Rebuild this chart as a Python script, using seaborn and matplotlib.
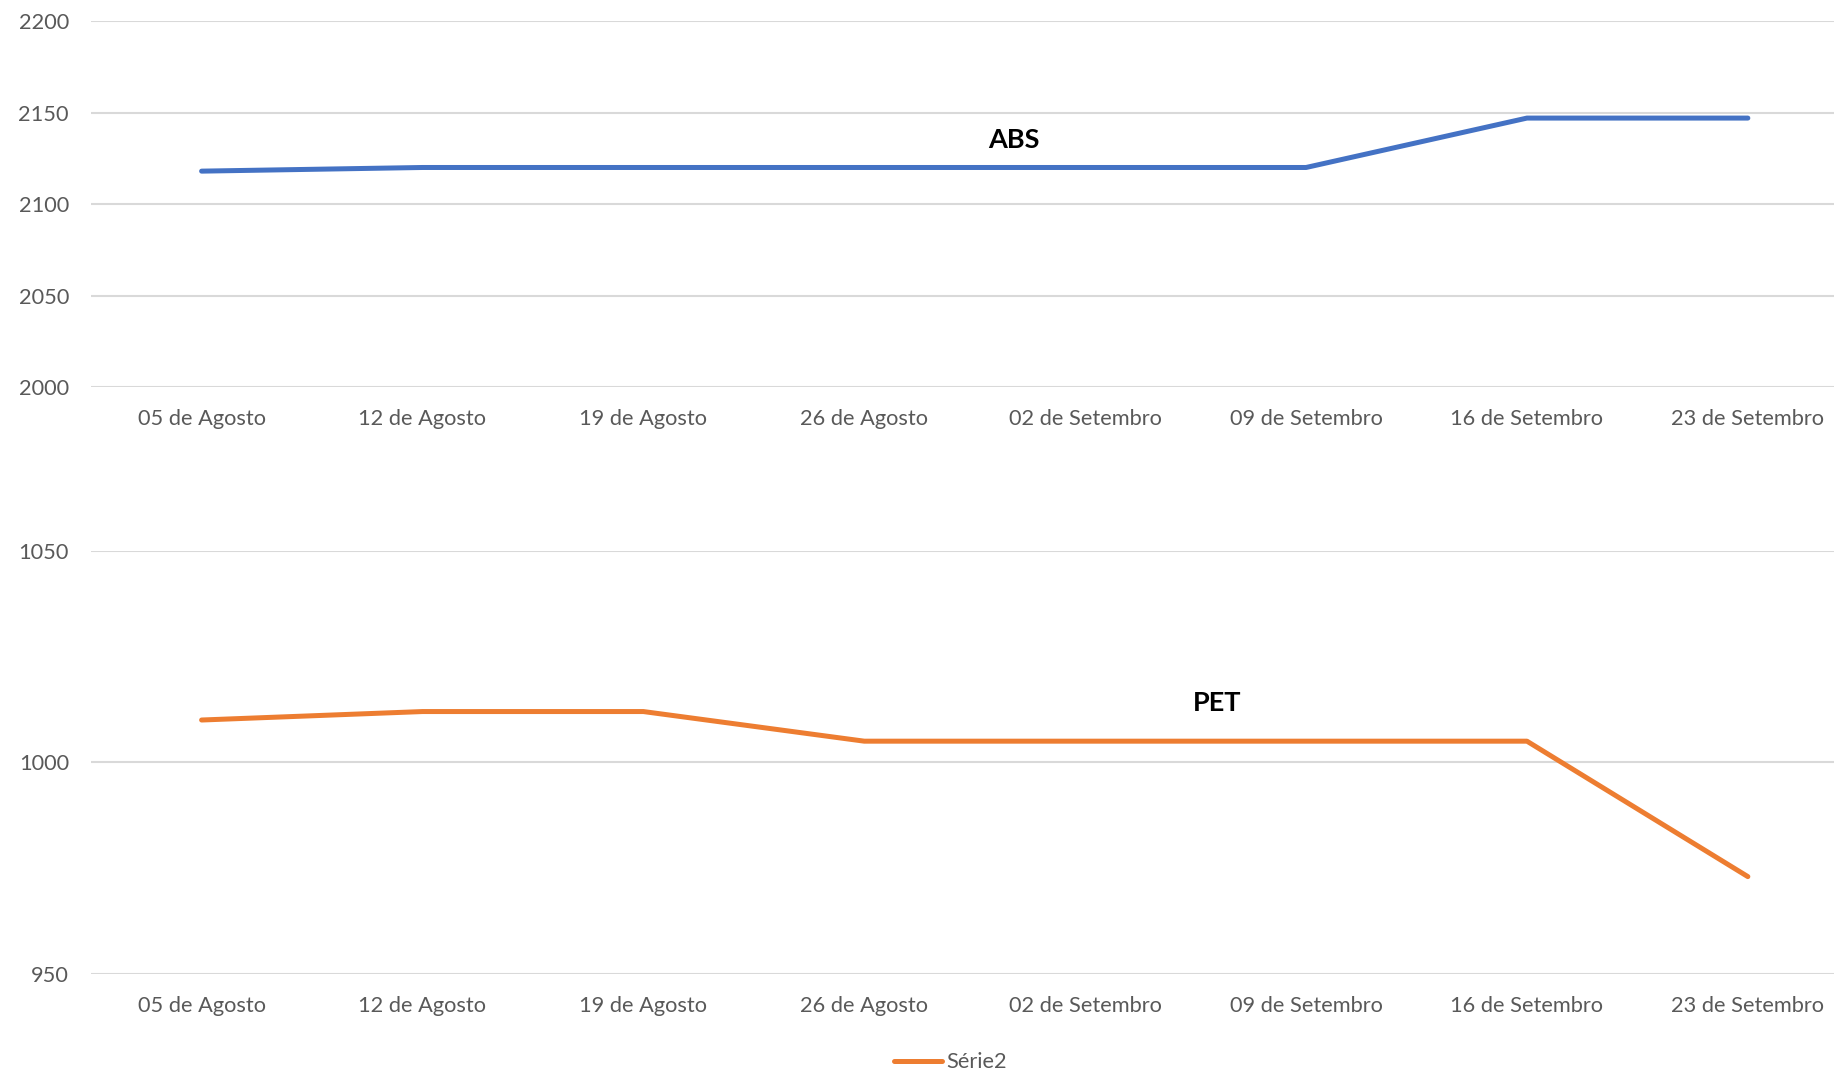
import matplotlib
matplotlib.use("Agg")
import matplotlib.pyplot as plt
import seaborn as sns
import pandas as pd
from matplotlib.lines import Line2D

categories = ["05 de Agosto", "12 de Agosto", "19 de Agosto", "26 de Agosto",
              "02 de Setembro", "09 de Setembro", "16 de Setembro", "23 de Setembro"]
abs_values = [2118, 2120, 2120, 2120, 2120, 2120, 2147, 2147]
pet_values = [1010, 1012, 1012, 1005, 1005, 1005, 1005, 973]
abs_yticks = [2000, 2050, 2100, 2150, 2200]
pet_yticks = [950, 1000, 1050]

sns.set_theme(style="white")
plt.rcParams['font.family'] = ['Lato', 'DejaVu Sans']

TXT = "#595959"
GRID = "#D9D9D9"
BLUE = "#4472C4"
ORANGE = "#ED7D31"

fig = plt.figure(figsize=(18.34, 10.71), dpi=100)
ax1 = fig.add_axes([0.0497, 0.6386, 0.9503, 0.3417])
ax2 = fig.add_axes([0.0497, 0.0906, 0.9503, 0.3952])

df_abs = pd.DataFrame({"data": categories, "valor": abs_values})
df_pet = pd.DataFrame({"data": categories, "valor": pet_values})

sns.lineplot(data=df_abs, x="data", y="valor", ax=ax1, color=BLUE, linewidth=3.6,
             solid_capstyle="round", sort=False)
sns.lineplot(data=df_pet, x="data", y="valor", ax=ax2, color=ORANGE, linewidth=3.6,
             solid_capstyle="round", sort=False)

for ax, yt in ((ax1, abs_yticks), (ax2, pet_yticks)):
    ax.set_xlim(-0.5, 7.39)
    ax.set_ylim(yt[0], yt[-1])
    ax.set_yticks(yt)
    ax.set_xticks(range(len(categories)))
    ax.set_xticklabels(categories)
    ax.set_xlabel("")
    ax.set_ylabel("")
    ax.grid(axis="y", color=GRID, linewidth=1.5)
    ax.set_axisbelow(True)
    for s in ax.spines.values():
        s.set_visible(False)
    ax.tick_params(axis="both", length=0, labelsize=15.7, labelcolor=TXT)
    ax.tick_params(axis="y", pad=16)
    ax.tick_params(axis="x", pad=16)
    for ln in ax.get_lines():
        ln.set_clip_on(False)

ax1.text(0.5295, 0.675, "ABS", transform=ax1.transAxes, ha="center", va="center",
         fontsize=19.5, fontweight="bold", color="black")
ax2.text(0.646, 0.64, "PET", transform=ax2.transAxes, ha="center", va="center",
         fontsize=19.5, fontweight="bold", color="black")

handle = Line2D([0], [0], color=ORANGE, linewidth=3.6, solid_capstyle="round")
fig.legend([handle], ["Série2"], loc="center", bbox_to_anchor=(0.518, 0.008),
           frameon=False, fontsize=15.7, labelcolor=TXT, handlelength=2.2,
           handletextpad=0.2)

fig.savefig("out.png", dpi=100, facecolor="white")
